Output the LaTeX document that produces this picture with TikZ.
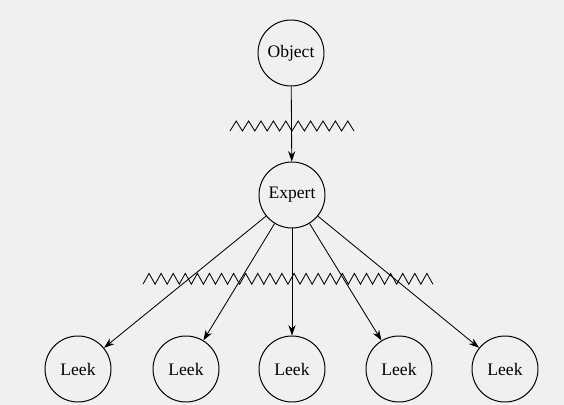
\documentclass[tikz,border=0pt]{standalone}
\usepackage{fontspec}
\setmainfont{Liberation Serif}
\usetikzlibrary{arrows.meta}

\begin{document}
\begin{tikzpicture}[
        >={Stealth[length=2.6mm, width=1.8mm]},
        bol/.style={circle, draw, line width=0.7pt, minimum size=1.65cm, inner sep=0pt},
        golf/.style={line width=0.6pt, line join=miter},
        pijl/.style={->, line width=0.6pt},
        every node/.style={font=\fontsize{12.5}{14}\selectfont}
    ]

        % achtergrond
        \fill[black!6] (0,0) rectangle (14.1,10.125);
        \useasboundingbox (0,0) rectangle (14.1,10.125);

        % ==================================================
        % KNOPEN
        % ==================================================

        \node[bol] (obj) at (7.275,8.8) {Object};
        \node[bol] (exp) at (7.3,5.25) {Expert};

        % Leken
        \node[bol] (l1) at (1.95,0.9)   {Leek};
        \node[bol] (l2) at (4.65,0.9)   {Leek};
        \node[bol] (l3) at (7.3,0.9)    {Leek};
        \node[bol] (l4) at (9.975,0.9)  {Leek};
        \node[bol] (l5) at (12.625,0.9) {Leek};

        % Zigzaglijnen
        \coordinate (za) at (5.75,6.85);
        \coordinate (zc) at (3.575,3.02);

        \draw[golf] (za) \foreach \i in {1,...,10} { -- ++(0.155,0.25) -- ++(0.155,-0.25) };
        \draw[golf] (zc) \foreach \i in {1,...,24} { -- ++(0.151,0.27) -- ++(0.151,-0.27) };

        % Pijlen
        \draw[pijl] (obj) -- (exp);
        \draw[pijl] (exp) -- (l1);
        \draw[pijl] (exp) -- (l2);
        \draw[pijl] (exp) -- (l3);
        \draw[pijl] (exp) -- (l4);
        \draw[pijl] (exp) -- (l5);

    \end{tikzpicture}
\end{document}
